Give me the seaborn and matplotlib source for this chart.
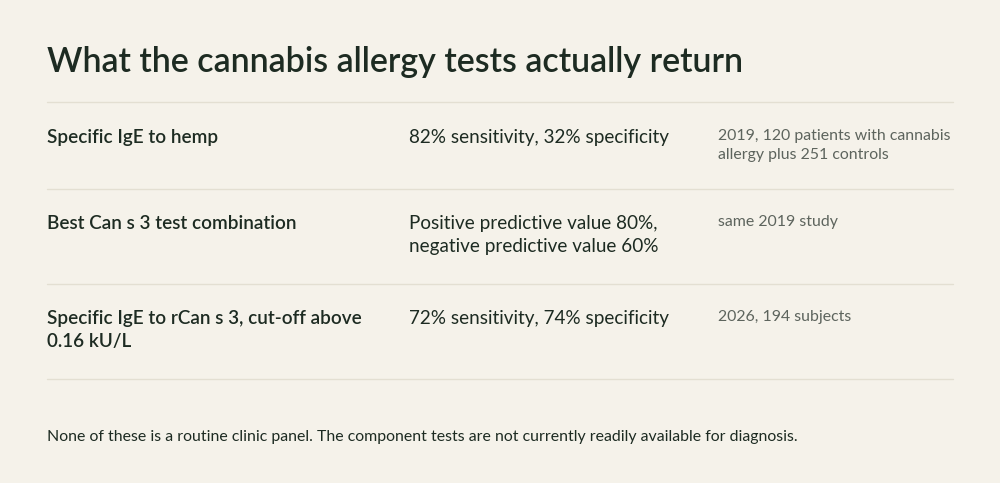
import matplotlib.pyplot as plt
import seaborn as sns

sns.set_theme(style="white")
plt.rcParams['font.family'] = ['Lato', 'DejaVu Sans']

title = "What the cannabis allergy tests actually return"
tests = ["Specific IgE to hemp",
         "Best Can s 3 test combination",
         "Specific IgE to rCan s 3, cut-off above\n0.16 kU/L"]
results = ["82% sensitivity, 32% specificity",
           "Positive predictive value 80%,\nnegative predictive value 60%",
           "72% sensitivity, 74% specificity"]
sources = ["2019, 120 patients with cannabis\nallergy plus 251 controls",
           "same 2019 study",
           "2026, 194 subjects"]
footnote = ("None of these is a routine clinic panel. The component tests are not "
            "currently readily available for diagnosis.")

bg = "#f5f2ea"
dark = "#1d2b22"
grey = "#5d645d"
rule = "#e3dfd2"

W, H = 1000, 483
fig = plt.figure(figsize=(10, 4.83), dpi=100, facecolor=bg)
ax = fig.add_axes([0, 0, 1, 1])
ax.set_facecolor(bg)
ax.set_xlim(0, W)
ax.set_ylim(H, 0)
ax.axis("off")

ax.text(47, 62, title, fontsize=24.5, color=dark, va="center", ha="left", fontweight="semibold")

lines_y = [102, 189, 284, 379]
for y in lines_y:
    ax.plot([47, 953], [y, y], color=rule, lw=1)

row_tops = [129, 215, 310]
for top, t, r, s in zip(row_tops, tests, results, sources):
    ax.text(47, top, t, fontsize=13.6, color=dark, va="top", ha="left",
            fontweight="semibold", linespacing=1.4)
    ax.text(409, top, r, fontsize=13.6, color=dark, va="top", ha="left", linespacing=1.4)
    ax.text(718, top, s, fontsize=11.4, color=grey, va="top", ha="left", linespacing=1.45)

ax.text(47, 437, footnote, fontsize=11.45, color=dark, va="center", ha="left")

fig.savefig("out.png", dpi=100, facecolor=bg)
